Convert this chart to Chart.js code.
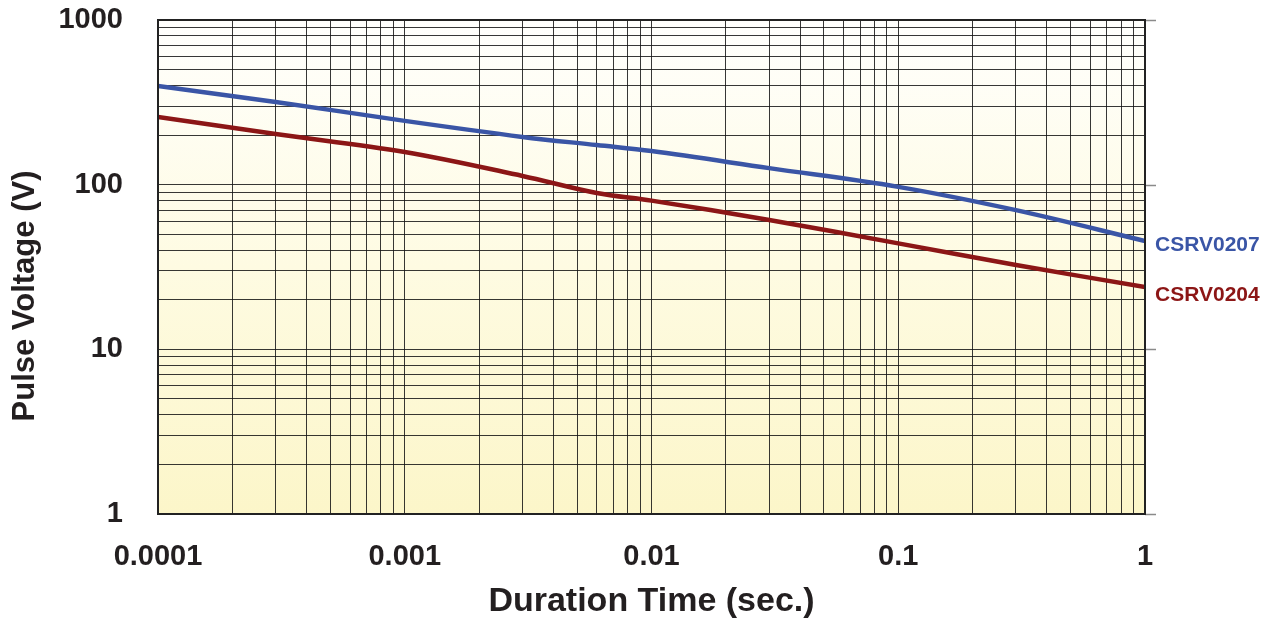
<!DOCTYPE html>
<html><head><meta charset="utf-8">
<script src="https://cdn.jsdelivr.net/npm/chart.js@4/dist/chart.umd.min.js"></script>
<style>html,body{margin:0;padding:0;background:#fff}#c{display:block}</style>
</head><body>
<canvas id="c" width="1274" height="624"></canvas>
<script>
// ---- data ----
const durations = [0.0001, 0.0003, 0.001, 0.003, 0.006, 0.01, 0.03, 0.1, 0.3, 1];
const csrv0207  = [397, 318, 244, 195, 174, 160, 126, 97, 70, 45.5];
const csrv0204  = [258, 203, 158, 113, 89, 80, 61, 44, 32.5, 23.9];
const seriesNames = ['CSRV0207', 'CSRV0204'];
const xTickValues = [0.0001, 0.001, 0.01, 0.1, 1];
const xTickLabels = ['0.0001', '0.001', '0.01', '0.1', '1'];
const yTickValues = [1, 10, 100, 1000];
const yTickLabels = ['1', '10', '100', '1000'];
const xTitle = 'Duration Time (sec.)';
const yTitle = 'Pulse Voltage (V)';

const BLUE = '#3a55a6', RED = '#8c1616', INK = '#231f20';
const FONT = '"Liberation Sans", Arial, Helvetica, sans-serif';

function logTicks(majors) {
  const out = [];
  for (let i = 0; i < majors.length; i++) {
    const m = majors[i];
    out.push({ value: m, major: true });
    if (i < majors.length - 1) for (let k = 2; k <= 9; k++) out.push({ value: m * k });
  }
  return out;
}
function labelFor(v, vals, labs) {
  for (let i = 0; i < vals.length; i++) if (Math.abs(v / vals[i] - 1) < 1e-6) return labs[i];
  return '';
}
function zeroPad(s) { s.paddingTop = 0; s.paddingBottom = 0; s.paddingLeft = 0; s.paddingRight = 0; }

const bgPlugin = {
  id: 'bg',
  beforeDraw(chart) {
    const { ctx, chartArea: a } = chart;
    const g = ctx.createLinearGradient(0, a.top, 0, a.bottom);
    g.addColorStop(0, '#fffffd');
    g.addColorStop(0.5, '#fefbe2');
    g.addColorStop(1, '#fcf6c9');
    ctx.save(); ctx.fillStyle = g; ctx.fillRect(a.left, a.top, a.right - a.left, a.bottom - a.top); ctx.restore();
  }
};
const decoPlugin = {
  id: 'deco',
  afterDatasetsDraw(chart) {
    const { ctx, chartArea: a, scales } = chart;
    ctx.save();
    ctx.strokeStyle = '#8a8a8a'; ctx.lineWidth = 1.5;
    yTickValues.forEach(v => {
      const y = Math.round(scales.y.getPixelForValue(v)) + 0.5;
      ctx.beginPath(); ctx.moveTo(a.right, y); ctx.lineTo(a.right + 11, y); ctx.stroke();
    });
    ctx.strokeStyle = '#222'; ctx.lineWidth = 2;
    ctx.strokeRect(a.left, a.top, a.right - a.left, a.bottom - a.top);
    ctx.font = 'bold 21px ' + FONT; ctx.textAlign = 'left'; ctx.textBaseline = 'middle';
    const offs = [4, 8];
    chart.data.datasets.forEach((ds, i) => {
      const meta = chart.getDatasetMeta(i);
      const p = meta.data[meta.data.length - 1];
      ctx.fillStyle = ds.borderColor;
      ctx.fillText(ds.label, a.right + 10, p.y + offs[i]);
    });
    // y-axis title (sits a little below the axis centre in the reference)
    ctx.translate(25, (a.top + a.bottom) / 2 + 29);
    ctx.rotate(-Math.PI / 2);
    ctx.font = 'bold 31px ' + FONT; ctx.textAlign = 'center'; ctx.fillStyle = INK;
    ctx.fillText(yTitle, 0, 0);
    ctx.restore();
  }
};

const mk = (xs, ys) => xs.map((x, i) => ({ x, y: ys[i] }));

new Chart(document.getElementById('c'), {
  type: 'line',
  data: {
    datasets: [
      { label: seriesNames[0], data: mk(durations, csrv0207), borderColor: BLUE, borderWidth: 4.5, pointRadius: 0, tension: 0.35, fill: false },
      { label: seriesNames[1], data: mk(durations, csrv0204), borderColor: RED, borderWidth: 4.5, pointRadius: 0, tension: 0.35, fill: false }
    ]
  },
  options: {
    responsive: false, animation: false, devicePixelRatio: 1,
    layout: { padding: { left: 0, top: 20, right: 129, bottom: 0 } },
    plugins: { legend: { display: false }, tooltip: { enabled: false } },
    scales: {
      x: {
        type: 'logarithmic', min: 0.0001, max: 1,
        afterBuildTicks(s) { s.ticks = logTicks(xTickValues); },
        afterFit(s) { s.height = 110; zeroPad(s); },
        grid: { color: 'rgba(20,20,20,0.85)', lineWidth: 1, drawTicks: false },
        border: { display: false },
        ticks: { autoSkip: false, maxRotation: 0, padding: 26, color: INK, font: { family: FONT, size: 29, weight: 'bold' },
          callback: v => labelFor(v, xTickValues, xTickLabels) },
        title: { display: true, text: xTitle, color: INK, font: { family: FONT, size: 34, weight: 'bold' }, padding: { top: 0, bottom: 2 } }
      },
      y: {
        type: 'logarithmic', min: 1, max: 1000,
        afterBuildTicks(s) { s.ticks = logTicks(yTickValues); },
        afterFit(s) { s.width = 158; zeroPad(s); },
        grid: { color: 'rgba(20,20,20,0.85)', lineWidth: 1, drawTicks: false },
        border: { display: false },
        ticks: { autoSkip: false, padding: 35, color: INK, font: { family: FONT, size: 29, weight: 'bold' },
          callback: v => labelFor(v, yTickValues, yTickLabels) },
        title: { display: false }
      }
    }
  },
  plugins: [bgPlugin, decoPlugin]
});
</script>
</body></html>
